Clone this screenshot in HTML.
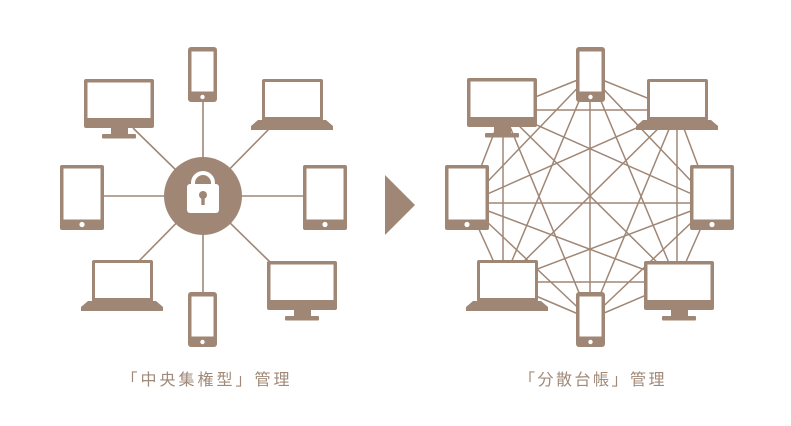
<!DOCTYPE html>
<html><head><meta charset="utf-8"><style>
html,body{margin:0;padding:0;background:#fff;}
svg{display:block}
</style></head><body>
<svg width="791" height="426" viewBox="0 0 791 426" xmlns="http://www.w3.org/2000/svg">
<defs>
<g id="phone"><rect x="0" y="0" width="29" height="55" rx="3" fill="#a08775"/><rect x="3.5" y="4.5" width="22" height="40" fill="#fff"/><circle cx="14.5" cy="50" r="2.2" fill="#fff"/></g>
<g id="tablet"><rect x="0" y="0" width="44" height="65" rx="2" fill="#a08775"/><rect x="3.5" y="3.5" width="37" height="51" fill="#fff"/><circle cx="22" cy="59.5" r="2.6" fill="#fff"/></g>
<g id="mon"><rect x="0" y="0" width="70" height="49" rx="2" fill="#a08775"/><rect x="3.5" y="3.5" width="63" height="35.5" fill="#fff"/><rect x="27" y="49" width="17" height="7" fill="#a08775"/><rect x="18" y="55" width="34" height="4.5" rx="1" fill="#a08775"/></g>
<g id="lap"><rect x="11" y="0" width="61" height="42" rx="2" fill="#a08775"/><rect x="14" y="3" width="55" height="35" fill="#fff"/><polygon points="7,41 75,41 82,47 82,51 0,51 0,47" fill="#a08775"/></g>
</defs>
<g stroke="#a08775" stroke-width="1.6">
<line x1="203" y1="100" x2="203" y2="295"/>
<line x1="100" y1="196" x2="305" y2="196"/>
<line x1="133" y1="128" x2="270" y2="262"/>
<line x1="270" y1="128" x2="138" y2="262"/>
</g>
<circle cx="203" cy="196" r="39" fill="#a08775"/>
<path d="M193,186 v-3 a10,10 0 0 1 20,0 v3" fill="none" stroke="#fff" stroke-width="4"/>
<rect x="187" y="184" width="32" height="29" rx="3" fill="#fff"/>
<circle cx="203" cy="195" r="4" fill="#a08775"/>
<rect x="201.3" y="196" width="3.4" height="9" fill="#a08775"/>
<use href="#phone" x="188" y="47"/><use href="#phone" x="188" y="292"/>
<use href="#tablet" x="60" y="165"/><use href="#tablet" x="303" y="165"/>
<use href="#mon" x="84" y="79"/><use href="#mon" x="267" y="261"/>
<use href="#lap" x="251" y="79"/><use href="#lap" x="81" y="260"/>
<polygon points="385,175 415,205 385,235" fill="#a08775"/>
<g stroke="#a08775" stroke-width="1.5">
<path d="M503,110L677,110M503,110L467,203M503,110L712,203M503,110L503,282M503,110L677,282M503,110L590,75M503,110L590,319
M677,110L467,203M677,110L712,203M677,110L503,282M677,110L677,282M677,110L590,75M677,110L590,319
M467,203L712,203M467,203L503,282M467,203L677,282M467,203L590,75M467,203L590,319
M712,203L503,282M712,203L677,282M712,203L590,75M712,203L590,319
M503,282L677,282M503,282L590,75M503,282L590,319
M677,282L590,75M677,282L590,319M590,75L590,319"/>
</g>
<use href="#phone" x="576" y="47"/><use href="#phone" x="576" y="292"/>
<use href="#tablet" x="445" y="165"/><use href="#tablet" x="690" y="165"/>
<use href="#mon" x="467" y="78"/><use href="#mon" x="644" y="261"/>
<use href="#lap" x="636" y="79"/><use href="#lap" x="466" y="260"/>
<text x="207" y="385" text-anchor="middle" font-family="'Liberation Sans','Noto Sans CJK JP',sans-serif" font-size="16" letter-spacing="3" fill="#a08978">「中央集権型」管理</text>
<text x="593" y="385" text-anchor="middle" font-family="'Liberation Sans','Noto Sans CJK JP',sans-serif" font-size="16" letter-spacing="2.5" fill="#a08978">「分散台帳」管理</text>
</svg>
</body></html>
